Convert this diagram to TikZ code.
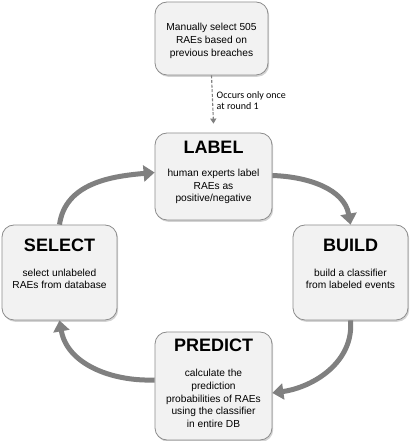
\documentclass[tikz,border=0pt]{standalone}
\usepackage{fontspec}
\setmainfont{Liberation Sans}
\newfontfamily\notefont{Carlito}
\usetikzlibrary{arrows.meta,shadows}
\definecolor{boxfill}{HTML}{F2F2F2}
\definecolor{boxline}{HTML}{8C8C8C}
\definecolor{arrgray}{HTML}{808080}
\tikzset{
  stagebox/.style={draw=boxline, line width=0.8pt, fill=boxfill, rounded corners=12pt,
    drop shadow={opacity=0.35, shadow xshift=1.2pt, shadow yshift=-1.8pt},
    inner sep=0pt},
  stagetitle/.style={font=\fontsize{18}{20}\selectfont\bfseries, inner sep=0pt},
  stagebody/.style={font=\fontsize{10.2}{12.7}\selectfont, align=center, inner sep=0pt},
  cyc/.style={draw=arrgray, line width=5pt, -{Triangle[length=11pt,width=16pt]}},
  dasharrow/.style={draw=arrgray, line width=1.1pt, dash pattern=on 3pt off 1.6pt, -{Triangle[length=5pt,width=6pt]}}
}
\begin{document}
\begin{tikzpicture}[x=1pt,y=1pt]
\useasboundingbox (0,0) rectangle (410,441);
% boxes
\node[stagebox, minimum width=113pt, minimum height=73pt] (top) at (211.5,402.5) {};
\node[stagebox, minimum width=117pt, minimum height=87pt] (lab) at (213.5,264.5) {};
\node[stagebox, minimum width=115pt, minimum height=95pt] (sel) at (59.5,168.5) {};
\node[stagebox, minimum width=115pt, minimum height=95pt] (bld) at (350.5,168.5) {};
\node[stagebox, minimum width=117pt, minimum height=108pt] (pre) at (213.5,55) {};
% texts
\node[stagebody] (toptxt) at (211.5,400) {Manually select 505\\RAEs based on\\previous breaches};
\node[stagetitle] (labt) at (213.5,294) {LABEL};
\node[stagebody] (labb) at (213.5,254.5) {human experts label\\RAEs as\\positive/negative};
\node[stagetitle] (selt) at (59.5,196) {SELECT};
\node[stagebody] (selb) at (59.5,162) {select unlabeled\\RAEs from database};
\node[stagetitle] (bldt) at (350.5,196) {BUILD};
\node[stagebody] (bldb) at (350.5,162) {build a classifier\\from labeled events};
\node[stagetitle] (pret) at (213.5,96) {PREDICT};
\node[stagebody] (preb) at (213.5,42.5) {calculate the\\prediction\\probabilities of RAEs\\using the classifier\\in entire DB};
% dashed connector
\coordinate (dashend) at ([yshift=9pt]lab.north);
\draw[dasharrow] (top.south) -- (dashend);
\node[font=\notefont\fontsize{10}{11.5}\selectfont, align=left, anchor=west, inner sep=0pt] (occ) at (216.5,340.5) {Occurs only once\\at round 1};
% cycle arrows
\draw[cyc] ([yshift=1pt]lab.east) to[out=-2, in=100] (bld.north);
\draw[cyc] (bld.south) to[out=-85, in=8] ([yshift=-7pt]pre.east);
\draw[cyc] ([yshift=6pt]pre.west) to[out=182, in=-80] (sel.south);
\draw[cyc] (sel.north) to[out=82, in=185] ([yshift=4pt]lab.west);
\end{tikzpicture}
\end{document}
